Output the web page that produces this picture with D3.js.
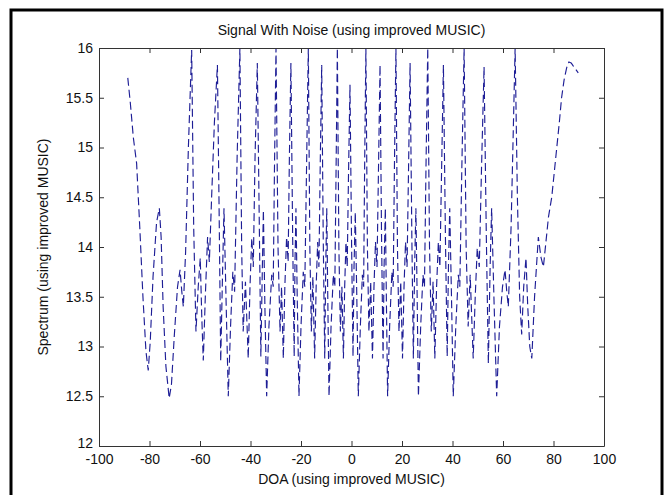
<!DOCTYPE html>
<html>
<head>
<meta charset="utf-8">
<script src="https://cdn.jsdelivr.net/npm/d3@7/dist/d3.min.js"></script>
<style>
  body { margin: 0; background: #fff; }
  text { font-family: "Liberation Sans", Arial, sans-serif; fill: #111; }
</style>
</head>
<body>
<div id="chart"></div>
<script>
// axis ticks
var xTicks = [-100, -80, -60, -40, -20, 0, 20, 40, 60, 80, 100];
var yTicks = [12, 12.5, 13, 13.5, 14, 14.5, 15, 15.5, 16];

// DOA values (degrees)
var doa = [
  -88.6, -87.6, -86.4, -85.1, -83.8, -82.6, -81.4, -80.5, -79.7, -78.6,
  -77.2, -76.1, -75.4, -74.6, -73.5, -72.2, -71.3, -70.2, -68.9, -67.9,
  -67.2, -66.6, -65.7, -64.6, -63.3, -62.5, -61.6, -60.7, -59.9, -59.3,
  -58.7, -57.9, -57.0, -56.3, -55.4, -54.3, -53.1, -52.4, -51.8, -51.1,
  -50.5, -49.8, -48.8, -47.9, -47.0, -46.3, -45.3, -44.2, -43.5, -42.9,
  -42.0, -40.9, -40.2, -39.5, -38.9, -38.2, -37.3, -36.5, -35.9, -35.3,
  -34.9, -34.3, -33.6, -32.7, -31.6, -31.0, -30.5, -29.9, -29.1, -28.3,
  -27.7, -27.0, -26.4, -25.7, -25.1, -24.6, -24.0, -23.3, -22.7, -22.4,
  -22.0, -21.5, -20.8, -20.0, -19.1, -18.5, -17.8, -17.1, -16.5, -15.9,
  -15.3, -14.6, -14.0, -13.4, -12.9, -12.4, -11.8, -11.2, -10.6, -10.2,
  -9.8, -9.4, -8.9, -8.1, -7.2, -6.6, -6.1, -5.6, -5.0, -4.4,
  -3.8, -3.2, -2.7, -2.2, -1.7, -1.2, -0.6, 0.0, 0.6, 1.0,
  1.5, 2.1, 2.7, 3.5, 4.3, 4.8, 5.2, 5.7, 6.3, 6.9,
  7.6, 8.3, 8.9, 9.5, 10.1, 10.7, 11.3, 11.9, 12.5, 12.9,
  13.4, 13.8, 14.3, 15.1, 16.0, 16.5, 17.0, 17.6, 18.2, 18.8,
  19.5, 20.2, 20.8, 21.4, 22.0, 22.6, 23.2, 23.9, 24.5, 25.0,
  25.5, 26.0, 26.5, 27.4, 28.3, 28.9, 29.5, 30.2, 30.9, 31.6,
  32.3, 33.0, 33.7, 34.4, 35.0, 35.7, 36.4, 37.2, 37.9, 38.4,
  38.9, 39.6, 40.3, 41.3, 42.3, 42.9, 43.7, 44.6, 45.4, 46.2,
  47.0, 48.2, 49.0, 49.8, 50.6, 51.5, 52.5, 53.4, 54.2, 54.9,
  55.5, 56.4, 57.5, 58.6, 59.8, 60.8, 61.5, 62.1, 63.2, 64.1,
  64.8, 65.7, 66.6, 67.4, 68.2, 69.1, 69.8, 70.6, 71.4, 72.5,
  74.0, 75.0, 76.0, 77.0, 78.0, 79.3, 80.3, 81.3, 82.3, 83.2,
  84.2, 85.2, 86.1, 87.0, 87.8, 89.8
];

// spectrum values, one per DOA point
var spectrum = [
  15.70, 15.45, 15.10, 14.84, 14.17, 13.50, 12.95, 12.76, 13.05, 13.70,
  14.25, 14.39, 14.10, 13.40, 12.80, 12.48, 12.62, 13.10, 13.60, 13.77,
  13.55, 13.40, 13.95, 15.00, 15.98, 14.20, 13.15, 13.60, 13.89, 13.30,
  12.86, 13.50, 14.10, 13.85, 14.50, 15.25, 15.83, 14.30, 12.85, 13.70,
  14.39, 13.60, 12.50, 13.20, 13.75, 13.55, 14.90, 16.00, 14.00, 13.15,
  13.65, 12.88, 13.60, 14.09, 13.80, 14.90, 15.85, 14.20, 12.90, 13.80,
  14.37, 13.40, 12.50, 13.20, 13.72, 13.60, 14.80, 16.00, 14.00, 13.15,
  13.60, 12.88, 13.60, 14.10, 13.85, 14.90, 15.85, 14.10, 12.90, 13.80,
  14.39, 13.50, 12.50, 13.20, 13.75, 13.60, 14.80, 16.00, 14.00, 13.15,
  13.70, 12.88, 13.60, 14.05, 13.80, 14.80, 15.83, 14.10, 12.88, 13.80,
  14.39, 13.50, 12.50, 13.20, 13.72, 13.60, 14.80, 16.00, 14.00, 13.15,
  13.60, 12.88, 13.60, 14.05, 13.80, 14.70, 15.63, 14.10, 12.90, 13.80,
  14.35, 13.50, 12.50, 13.20, 13.72, 13.60, 14.80, 16.00, 14.00, 13.15,
  13.65, 12.88, 13.60, 14.05, 13.80, 14.80, 15.83, 14.10, 12.88, 13.80,
  14.39, 13.50, 12.50, 13.20, 13.75, 13.60, 14.80, 16.00, 14.00, 13.15,
  13.65, 12.88, 13.60, 14.05, 13.80, 14.80, 15.85, 14.10, 12.88, 13.80,
  14.39, 13.50, 12.50, 13.20, 13.72, 13.60, 14.80, 16.00, 14.00, 13.15,
  13.65, 12.88, 13.60, 14.05, 13.80, 14.80, 15.83, 14.10, 12.90, 13.80,
  14.39, 13.50, 12.50, 13.20, 13.72, 13.60, 14.80, 16.00, 14.00, 13.20,
  13.72, 12.88, 13.50, 13.99, 13.80, 14.80, 15.81, 14.10, 12.83, 13.80,
  14.39, 13.50, 12.50, 13.20, 13.60, 13.77, 13.55, 13.40, 14.20, 15.20,
  16.00, 14.50, 13.50, 13.12, 13.60, 13.89, 13.40, 13.00, 12.88, 13.50,
  14.10, 13.90, 13.80, 14.05, 14.30, 14.50, 14.75, 15.00, 15.25, 15.50,
  15.68, 15.80, 15.86, 15.85, 15.82, 15.75
];

var width = 671;
var height = 495;

// plot box edges in the figure
var boxLeft = 99, boxRight = 604, boxTop = 48, boxBottom = 446;
var tickLen = 5;

var svg = d3.select("#chart")
  .append("svg")
  .attr("width", width)
  .attr("height", height);

// white figure with the black frame round it
svg.append("rect")
  .attr("x", 11).attr("y", 10)
  .attr("width", 651).attr("height", 495)
  .attr("fill", "#fff")
  .attr("stroke", "#000")
  .attr("stroke-width", 3);

var xScale = d3.scaleLinear().domain([-100, 100]).range([boxLeft, boxRight]);
var yScale = d3.scaleLinear().domain([12, 16]).range([boxBottom, boxTop]);

// clip the curve to the axes box
svg.append("clipPath").attr("id", "plotClip")
  .append("rect")
  .attr("x", boxLeft).attr("y", boxTop)
  .attr("width", boxRight - boxLeft).attr("height", boxBottom - boxTop);

var points = doa.map(function(d, i) { return [d, spectrum[i]]; });

var line = d3.line()
  .x(function(d) { return xScale(d[0]); })
  .y(function(d) { return yScale(d[1]); });

svg.append("path")
  .datum(points)
  .attr("clip-path", "url(#plotClip)")
  .attr("d", line)
  .attr("fill", "none")
  .attr("stroke", "#1e1e96")
  .attr("stroke-width", 1.15)
  .attr("stroke-dasharray", "8,4");

// axes, ticks point inwards on all four sides
var axisColor = "#333";
var plainNum = function(d) { return String(d); };

var xBottom = d3.axisBottom(xScale).tickValues(xTicks).tickSizeInner(-tickLen).tickSizeOuter(0).tickPadding(8).tickFormat(plainNum);
var xTop = d3.axisTop(xScale).tickValues(xTicks).tickSizeInner(-tickLen).tickSizeOuter(0).tickFormat("");
var yLeft = d3.axisLeft(yScale).tickValues(yTicks).tickSizeInner(-tickLen).tickSizeOuter(0).tickPadding(6).tickFormat(plainNum);
var yRight = d3.axisRight(yScale).tickValues(yTicks).tickSizeInner(-tickLen).tickSizeOuter(0).tickFormat("");

function styleAxis(g) {
  g.select(".domain").attr("stroke", axisColor);
  g.selectAll(".tick line").attr("stroke", axisColor);
  g.selectAll(".tick text")
    .attr("fill", "#111")
    .style("font-family", "'Liberation Sans', Arial, sans-serif")
    .style("font-size", "14px");
}

svg.append("g").attr("transform", "translate(0," + boxBottom + ")").call(xBottom).call(styleAxis);
svg.append("g").attr("transform", "translate(0," + boxTop + ")").call(xTop).call(styleAxis);
var yAxisG = svg.append("g").attr("transform", "translate(" + boxLeft + ",0)").call(yLeft).call(styleAxis);
svg.append("g").attr("transform", "translate(" + boxRight + ",0)").call(yRight).call(styleAxis);

// the bottom "12" sits a little higher so it clears "-100", as in MATLAB
yAxisG.selectAll(".tick").filter(function(d) { return d === 12; })
  .select("text").attr("y", -3);

// title and axis labels
svg.append("text")
  .attr("x", (boxLeft + boxRight) / 2)
  .attr("y", 35)
  .attr("text-anchor", "middle")
  .style("font-size", "14px")
  .text("Signal With Noise (using improved MUSIC)");

svg.append("text")
  .attr("x", (boxLeft + boxRight) / 2)
  .attr("y", 484)
  .attr("text-anchor", "middle")
  .style("font-size", "14px")
  .text("DOA (using improved MUSIC)");

svg.append("text")
  .attr("transform", "translate(48," + ((boxTop + boxBottom) / 2) + ")rotate(-90)")
  .attr("text-anchor", "middle")
  .style("font-size", "14px")
  .text("Spectrum (using improved MUSIC)");
</script>
</body>
</html>
